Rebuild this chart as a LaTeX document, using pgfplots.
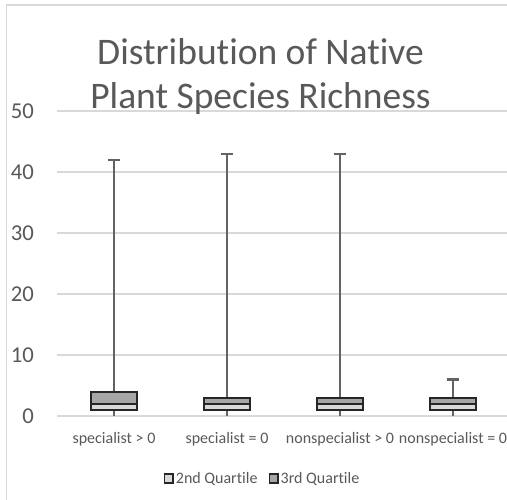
\documentclass[border=0pt]{standalone}
\usepackage{fontspec}
\setmainfont[RawFeature={-liga;-clig;-dlig}]{Carlito}
\usepackage{pgfplots}
\pgfplotsset{compat=1.18}
\definecolor{txt}{HTML}{595959}
\definecolor{gridc}{HTML}{D9D9D9}
\definecolor{q2}{HTML}{D9D9D9}
\definecolor{q3}{HTML}{A6A6A6}
\definecolor{boxc}{HTML}{262626}
\definecolor{whisk}{HTML}{636363}
\begin{document}
\begin{tikzpicture}[x=1pt,y=1pt]
\useasboundingbox (0,0) rectangle (507,499);
\clip (0,0) rectangle (507,499);
\fill[white] (0,0) rectangle (507,499);
\draw[gridc, line width=1.2pt] (6.5,-2) -- (6.5,494) -- (510,494);

\begin{axis}[
  at={(57.5pt,83pt)}, anchor=south west,
  scale only axis, width=452pt, height=305pt,
  xmin=-0.5, xmax=3.5, ymin=0, ymax=50,
  clip=false,
  axis line style={draw=none},
  major tick length=0pt,
  ymajorgrids, grid style={gridc, line width=1.2pt},
  ytick={0,10,20,30,40,50},
  xtick={0,1,2,3},
  xticklabels={specialist > 0, specialist = 0, nonspecialist > 0, nonspecialist = 0},
  /pgf/number format/assume math mode=true,
  yticklabel style={font=\fontsize{22.7}{27}\selectfont, text=txt, inner sep=0pt, anchor=east, xshift=-23.5pt},
  xticklabel style={font=\fontsize{16}{19}\selectfont, text=txt, inner sep=0pt, anchor=base, yshift=-27pt},
  legend style={draw=none, fill=none, legend columns=2, at={(0.4535,-0.205)}, anchor=center,
    font=\fontsize{16}{19}\selectfont, text=txt,
    /tikz/every even column/.append style={column sep=9pt}},
  legend cell align=left,
  legend image code/.code={\draw[#1, line width=1.6pt] (0pt,-4.3pt) rectangle (8.6pt,4.3pt);},
]
\addlegendimage{fill=q2, draw=boxc}
\addlegendentry{2nd Quartile}
\addlegendimage{fill=q3, draw=boxc}
\addlegendentry{3rd Quartile}
% upper whiskers: from Q3 to max
\addplot[forget plot, draw=none, mark=none,
  error bars/.cd, y dir=plus, y explicit,
  error bar style={draw=whisk, line width=2.2pt},
  error mark options={rotate=90, draw=whisk, mark size=6.3pt, line width=2.2pt}]
  coordinates {(0,4) +- (0,38) (1,3) +- (0,40) (2,3) +- (0,40) (3,3) +- (0,3)};
% lower whiskers: from Q1 to min
\addplot[forget plot, draw=none, mark=none,
  error bars/.cd, y dir=minus, y explicit, error mark=none,
  error bar style={draw=whisk, line width=2.2pt}]
  coordinates {(0,1) +- (0,1) (1,1) +- (0,1) (2,1) +- (0,1) (3,1) +- (0,1)};
\end{axis}

\begin{axis}[
  at={(57.5pt,83pt)}, anchor=south west,
  scale only axis, width=452pt, height=305pt,
  xmin=-0.5, xmax=3.5, ymin=0, ymax=50,
  clip=false, hide axis,
  ybar stacked, bar width=46pt,
]
\addplot[fill=none, draw=none] coordinates {(0,1) (1,1) (2,1) (3,1)};
\addplot[fill=q2, draw=boxc, line width=2pt] coordinates {(0,1) (1,1) (2,1) (3,1)};
\addplot[fill=q3, draw=boxc, line width=2pt] coordinates {(0,2) (1,1) (2,1) (3,1)};
\end{axis}

\node[anchor=base, font=\fontsize{37.5}{45}\selectfont, text=txt, inner sep=0pt] at (260.5,434.7) {Distribution of Native};
\node[anchor=base, font=\fontsize{37.5}{45}\selectfont, text=txt, inner sep=0pt] at (260.5,390) {Plant Species Richness};
\end{tikzpicture}
\end{document}
